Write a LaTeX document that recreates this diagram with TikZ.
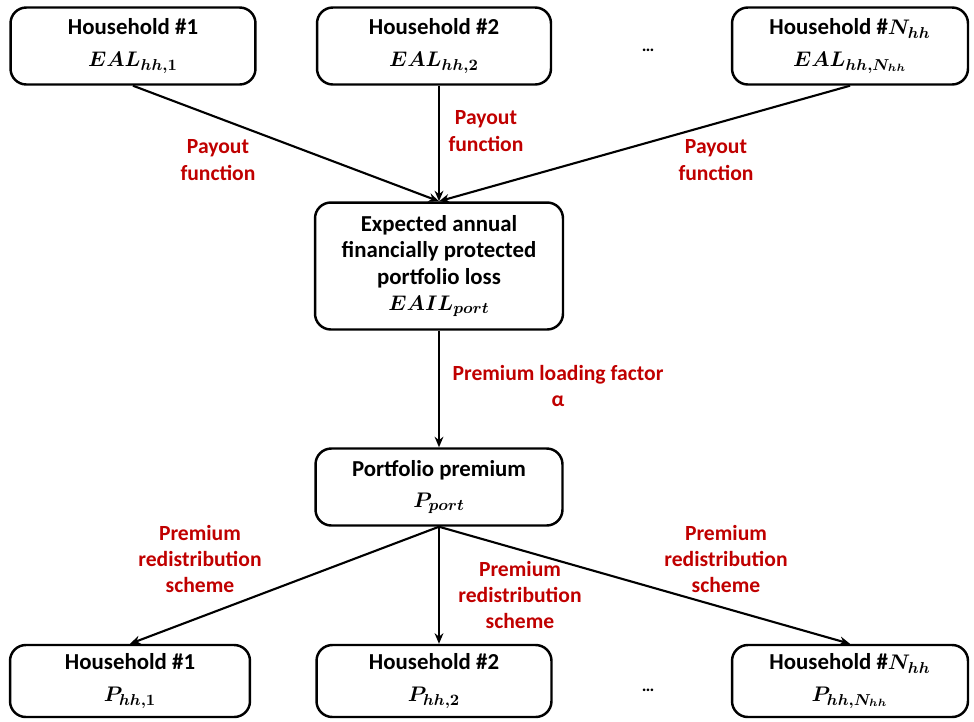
\documentclass[tikz,border=0pt]{standalone}
\usepackage{fontspec}
\setmainfont{Carlito}
\usetikzlibrary{arrows.meta}
\definecolor{labelred}{RGB}{192,0,0}
\tikzset{
  hhbox/.style={draw,line width=1.4pt,rounded corners=9pt,align=center,
    font=\fontsize{13}{15}\selectfont\bfseries\boldmath,inner sep=2pt},
  flow/.style={line width=1.2pt,-{Stealth[length=6pt,width=5pt]}},
  redlabel/.style={text=labelred,align=center,font=\fontsize{12.3}{15}\selectfont\bfseries}
}
\begin{document}
\begin{tikzpicture}[x=0.02cm,y=-0.02cm]
  \useasboundingbox (0,0) rectangle (974,721);

  \node[hhbox,minimum width=4.9cm,minimum height=1.54cm] (eal1) at (133,46) {Household \#1\\[3pt] $EAL_{hh,1}$};
  \node[hhbox,minimum width=4.68cm,minimum height=1.54cm] (eal2) at (434,46) {Household \#2\\[3pt] $EAL_{hh,2}$};
  \node[hhbox,minimum width=4.72cm,minimum height=1.54cm] (ealn) at (850,46) {Household \#$N_{hh}$\\[3pt] $EAL_{hh,N_{hh}}$};
  \node (dotstop) at (648,50) {\bfseries\dots};

  \node[hhbox,minimum width=4.96cm,minimum height=2.54cm] (eail) at (439,266)
    {Expected annual\\ financially protected\\ portfolio loss\\ $EAIL_{port}$};
  \node[hhbox,minimum width=4.94cm,minimum height=1.54cm] (port) at (439,487) {Portfolio premium\\[3pt] $P_{port}$};

  \node[hhbox,minimum width=4.8cm,minimum height=1.44cm] (p1) at (130,681) {Household \#1\\[3pt] $P_{hh,1}$};
  \node[hhbox,minimum width=4.7cm,minimum height=1.44cm] (p2) at (434,681) {Household \#2\\[3pt] $P_{hh,2}$};
  \node[hhbox,minimum width=4.72cm,minimum height=1.44cm] (pn) at (850,681) {Household \#$N_{hh}$\\[3pt] $P_{hh,N_{hh}}$};
  \node (dotsbot) at (648,690) {\bfseries\dots};

  \draw[flow] (eal1.south) -- (eail.north);
  \draw[flow] (eail.north |- eal2.south) -- (eail.north);
  \draw[flow] (ealn.south) -- (eail.north);
  \draw[flow] (eail) -- (port);
  \draw[flow] (port.south) -- (p1.north);
  \draw[flow] (port.south) -- (port.south |- p2.north);
  \draw[flow] (port.south) -- (pn.north);

  \node[redlabel] (pay1) at (218,160) {Payout\\ function};
  \node[redlabel] (pay2) at (486,131) {Payout\\ function};
  \node[redlabel] (payn) at (716,160) {Payout\\ function};
  \node[redlabel] (load) at (558,386) {Premium loading factor\\ α};
  \node[redlabel] (red1) at (200,559) {Premium\\ redistribution\\ scheme};
  \node[redlabel] (red2) at (520,595) {Premium\\ redistribution\\ scheme};
  \node[redlabel] (redn) at (726,559) {Premium\\ redistribution\\ scheme};
\end{tikzpicture}
\end{document}
